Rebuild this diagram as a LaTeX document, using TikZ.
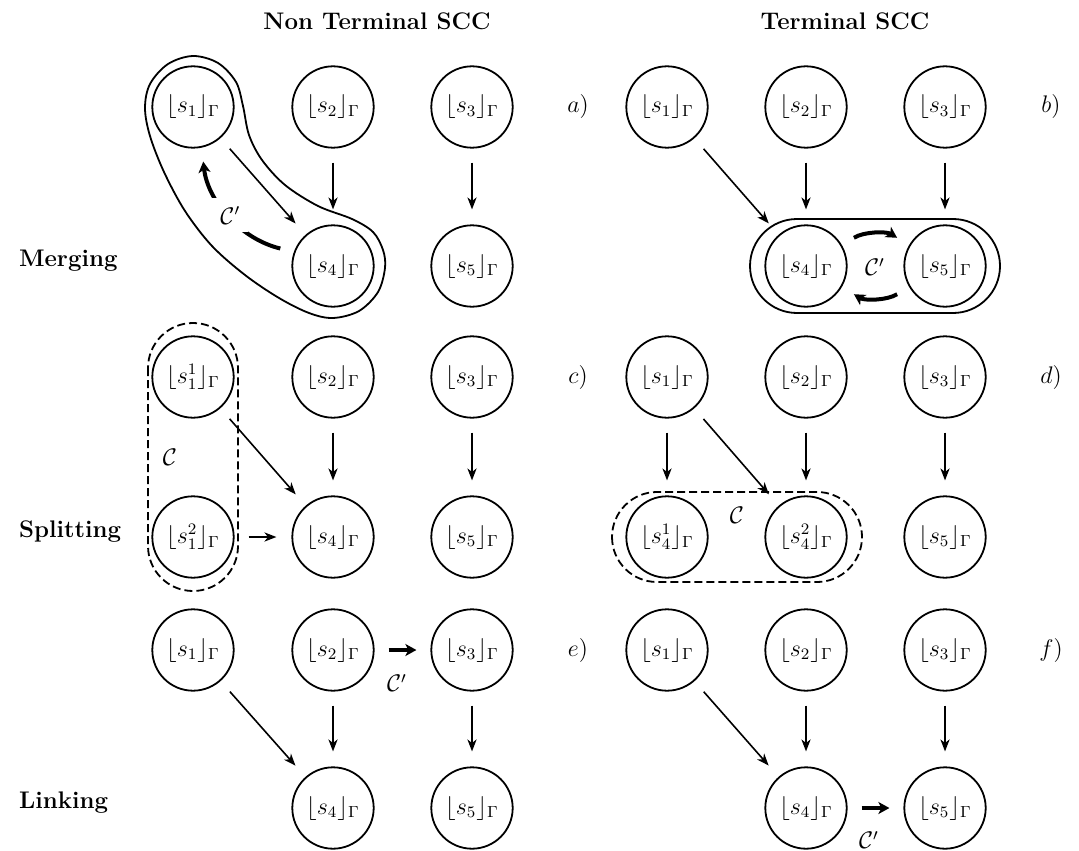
\documentclass[tikz,border=0pt]{standalone}
\usetikzlibrary{arrows.meta,calc}
\begin{document}
\begin{tikzpicture}[x=0.5pt,y=-0.5pt,
  st/.style={circle,draw,line width=0.9pt,minimum size=40.7pt,inner sep=0pt,font=\large},
  arr/.style={line width=0.8pt,-{Stealth[length=6pt,width=4.6pt,inset=1.8pt]},shorten <=7pt,shorten >=7.5pt},
  cyc/.style={line width=2pt,-{Stealth[length=5.5pt,width=6pt,inset=1.5pt]},shorten <=7pt,shorten >=7pt},
  lbl/.style={font=\large},
  hd/.style={font=\large\bfseries,anchor=base},
  rowlbl/.style={font=\large\bfseries,anchor=base west},
  outl/.style={line width=0.9pt},
  dsh/.style={line width=0.9pt,dash pattern=on 4pt off 2pt}]
\useasboundingbox (0,0) rectangle (1079,850);

% headings
\node[hd] (h1) at (377,30) {Non Terminal SCC};
\node[hd] (h2) at (845,30) {Terminal SCC};
\node[rowlbl] (r1) at (12,266) {Merging};
\node[rowlbl] (r2) at (12,537) {Splitting};
\node[rowlbl] (r3) at (12,808) {Linking};

% letters
\node[lbl] (la) at (578,107) {$a)$};
\node[lbl] (lb) at (1051,107) {$b)$};
\node[lbl] (lc) at (578,377) {$c)$};
\node[lbl] (ld) at (1051,377) {$d)$};
\node[lbl] (le) at (578,650) {$e)$};
\node[lbl] (lf) at (1051,650) {$f)$};

% ---------- panel a
\node[st] (a1) at (193,107) {$\lfloor s_1\rfloor_\Gamma$};
\node[st] (a2) at (333,107) {$\lfloor s_2\rfloor_\Gamma$};
\node[st] (a3) at (472,107) {$\lfloor s_3\rfloor_\Gamma$};
\node[st] (a4) at (333,266) {$\lfloor s_4\rfloor_\Gamma$};
\node[st] (a5) at (472,266) {$\lfloor s_5\rfloor_\Gamma$};
\draw[arr] (a1) -- (a4);
\draw[arr] (a2) -- (a4);
\draw[arr] (a3) -- (a5);
\draw[outl] plot[smooth cycle,tension=0.55] coordinates {
  (168,64) (193,56) (218,63) (236,82) (243,106) (249,135) (262,160)
  (285,185) (318,206) (352,219) (373,232) (383,250) (385,268) (378,292)
  (359,311) (333,318) (309,313) (279,298) (245,275) (212,246) (185,211)
  (164,172) (150,136) (145,108) (150,84)};
\draw[cyc] (a4.160) to[bend left=35] node[fill=white,inner sep=4pt,font=\large] (ca) {$\mathcal{C}'$} (a1.282);

% ---------- panel b
\node[st] (b1) at (667,107) {$\lfloor s_1\rfloor_\Gamma$};
\node[st] (b2) at (806,107) {$\lfloor s_2\rfloor_\Gamma$};
\node[st] (b3) at (945,107) {$\lfloor s_3\rfloor_\Gamma$};
\node[st] (b4) at (806,266) {$\lfloor s_4\rfloor_\Gamma$};
\node[st] (b5) at (945,266) {$\lfloor s_5\rfloor_\Gamma$};
\draw[arr] (b1) -- (b4);
\draw[arr] (b2) -- (b4);
\draw[arr] (b3) -- (b5);
\draw[outl,rounded corners=23.5pt] (750,219) rectangle (1000,313);
\draw[cyc] (b4.30) to[bend left=32] (b5.150);
\draw[cyc] (b5.210) to[bend left=32] (b4.330);
\node[lbl] (cb) at (875,267) {$\mathcal{C}'$};

% ---------- panel c
\node[st] (c11) at (193,377) {$\lfloor s_1^1\rfloor_\Gamma$};
\node[st] (c2) at (333,377) {$\lfloor s_2\rfloor_\Gamma$};
\node[st] (c3) at (472,377) {$\lfloor s_3\rfloor_\Gamma$};
\node[st] (c12) at (193,537) {$\lfloor s_1^2\rfloor_\Gamma$};
\node[st] (c4) at (333,537) {$\lfloor s_4\rfloor_\Gamma$};
\node[st] (c5) at (472,537) {$\lfloor s_5\rfloor_\Gamma$};
\draw[arr] (c11) -- (c4);
\draw[arr] (c2) -- (c4);
\draw[arr] (c3) -- (c5);
\draw[arr] (c12) -- (c4);
\draw[dsh,rounded corners=22.5pt] (148,323) rectangle (238,591);
\node[lbl] (cc) at (170,457) {$\mathcal{C}$};

% ---------- panel d
\node[st] (d1) at (667,377) {$\lfloor s_1\rfloor_\Gamma$};
\node[st] (d2) at (806,377) {$\lfloor s_2\rfloor_\Gamma$};
\node[st] (d3) at (945,377) {$\lfloor s_3\rfloor_\Gamma$};
\node[st] (d41) at (667,537) {$\lfloor s_4^1\rfloor_\Gamma$};
\node[st] (d42) at (806,537) {$\lfloor s_4^2\rfloor_\Gamma$};
\node[st] (d5) at (945,537) {$\lfloor s_5\rfloor_\Gamma$};
\draw[arr] (d1) -- (d41);
\draw[arr] (d1) -- (d42);
\draw[arr] (d2) -- (d42);
\draw[arr] (d3) -- (d5);
\draw[dsh,rounded corners=22.5pt] (612,492) rectangle (862,582);
\node[lbl] (cd) at (737,515) {$\mathcal{C}$};

% ---------- panel e
\node[st] (e1) at (193,650) {$\lfloor s_1\rfloor_\Gamma$};
\node[st] (e2) at (333,650) {$\lfloor s_2\rfloor_\Gamma$};
\node[st] (e3) at (472,650) {$\lfloor s_3\rfloor_\Gamma$};
\node[st] (e4) at (333,808) {$\lfloor s_4\rfloor_\Gamma$};
\node[st] (e5) at (472,808) {$\lfloor s_5\rfloor_\Gamma$};
\draw[arr] (e1) -- (e4);
\draw[arr] (e2) -- (e4);
\draw[arr] (e3) -- (e5);
\draw[cyc] (e2) -- (e3);
\node[lbl] (ce) at (397,683) {$\mathcal{C}'$};

% ---------- panel f
\node[st] (f1) at (667,650) {$\lfloor s_1\rfloor_\Gamma$};
\node[st] (f2) at (806,650) {$\lfloor s_2\rfloor_\Gamma$};
\node[st] (f3) at (945,650) {$\lfloor s_3\rfloor_\Gamma$};
\node[st] (f4) at (806,808) {$\lfloor s_4\rfloor_\Gamma$};
\node[st] (f5) at (945,808) {$\lfloor s_5\rfloor_\Gamma$};
\draw[arr] (f1) -- (f4);
\draw[arr] (f2) -- (f4);
\draw[arr] (f3) -- (f5);
\draw[cyc] (f4) -- (f5);
\node[lbl] (cf) at (869,840) {$\mathcal{C}'$};
\end{tikzpicture}
\end{document}
